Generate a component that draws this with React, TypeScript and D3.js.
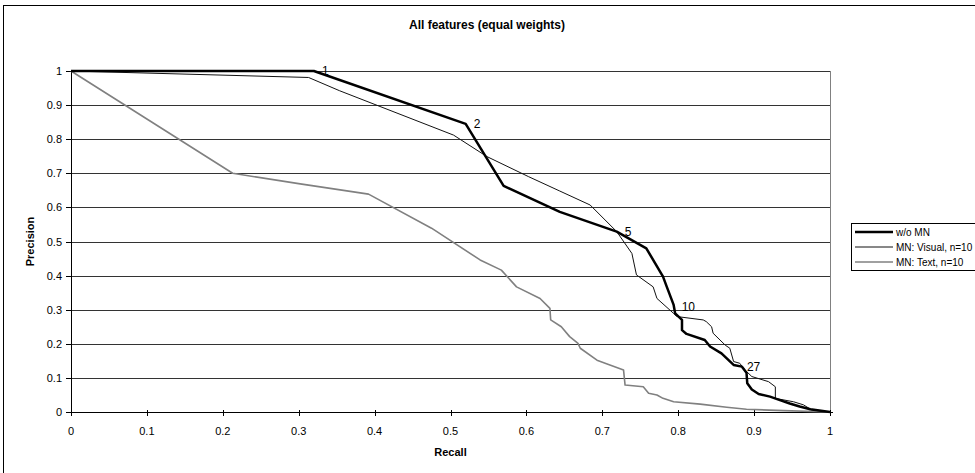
import React from 'react';
import * as d3 from 'd3';

// recall / precision
const woRecall = [0, 0.32, 0.52, 0.57, 0.644, 0.719, 0.758, 0.78, 0.785, 0.794, 0.796, 0.805, 0.805, 0.811, 0.835, 0.842, 0.857, 0.873, 0.884, 0.89, 0.891, 0.897, 0.906, 0.921, 0.934, 0.947, 0.96, 0.974, 1.0];
const woPrecision = [1, 1, 0.845, 0.663, 0.587, 0.529, 0.48, 0.397, 0.367, 0.314, 0.289, 0.27, 0.24, 0.229, 0.211, 0.192, 0.172, 0.138, 0.133, 0.115, 0.084, 0.066, 0.053, 0.045, 0.035, 0.025, 0.016, 0.008, 0];

const visRecall = [0, 0.313, 0.354, 0.504, 0.548, 0.603, 0.644, 0.684, 0.719, 0.739, 0.745, 0.767, 0.772, 0.794, 0.798, 0.833, 0.837, 0.844, 0.846, 0.862, 0.868, 0.873, 0.881, 0.888, 0.897, 0.919, 0.928, 0.928, 0.952, 0.965, 0.976, 1.0];
const visPrecision = [1, 0.981, 0.942, 0.812, 0.749, 0.69, 0.648, 0.607, 0.529, 0.465, 0.402, 0.367, 0.333, 0.289, 0.28, 0.27, 0.265, 0.25, 0.231, 0.196, 0.187, 0.148, 0.143, 0.123, 0.104, 0.089, 0.074, 0.04, 0.03, 0.021, 0.006, 0];

const txtRecall = [0, 0.213, 0.302, 0.392, 0.475, 0.539, 0.567, 0.587, 0.618, 0.631, 0.632, 0.646, 0.657, 0.668, 0.671, 0.693, 0.71, 0.728, 0.73, 0.754, 0.761, 0.772, 0.78, 0.794, 0.829, 0.864, 0.89, 0.939, 1.0];
const txtPrecision = [1, 0.7, 0.669, 0.639, 0.539, 0.446, 0.416, 0.367, 0.333, 0.304, 0.27, 0.25, 0.221, 0.201, 0.187, 0.152, 0.138, 0.123, 0.079, 0.074, 0.055, 0.05, 0.04, 0.03, 0.023, 0.014, 0.008, 0.004, 0];

// rank annotations on the w/o MN curve
const noteLabels = ['1', '2', '5', '10', '27'];
const noteRecall = [0.32, 0.52, 0.719, 0.794, 0.88];
const notePrecision = [1, 0.845, 0.529, 0.309, 0.131];

const xTicks = [0, 0.1, 0.2, 0.3, 0.4, 0.5, 0.6, 0.7, 0.8, 0.9, 1];
const yTicks = [0, 0.1, 0.2, 0.3, 0.4, 0.5, 0.6, 0.7, 0.8, 0.9, 1];

const seriesNames = ['w/o MN', 'MN: Visual, n=10', 'MN: Text, n=10'];

const font = 'Liberation Sans, Arial, sans-serif';

export default function App() {
  const width = 975;
  const height = 473;
  const plot = { left: 71, right: 830, top: 71, bottom: 412 };

  const x = d3.scaleLinear().domain([0, 1]).range([plot.left, plot.right]);
  const y = d3.scaleLinear().domain([0, 1]).range([plot.bottom, plot.top]);

  const line = d3.line<[number, number]>().x(d => x(d[0])).y(d => y(d[1]));
  const zip = (a: number[], b: number[]) => a.map((v, i) => [v, b[i]] as [number, number]);

  const series = [
    { name: seriesNames[0], pts: zip(woRecall, woPrecision), stroke: '#000', w: 2.5 },
    { name: seriesNames[1], pts: zip(visRecall, visPrecision), stroke: '#111', w: 1 },
    { name: seriesNames[2], pts: zip(txtRecall, txtPrecision), stroke: '#808080', w: 1.6 },
  ];
  // draw order: text, visual, then thick on top
  const drawOrder = [2, 1, 0];

  const legendY = [232, 247, 262];

  return (
    <svg width={width} height={height} style={{ position: 'absolute', left: 0, top: 0, background: '#fff' }} fontFamily={font}>
      <rect x={3.5} y={5.5} width={1000} height={1000} fill="#fff" stroke="#000" strokeWidth={1} />

      <text x={487} y={25} textAnchor="middle" dominantBaseline="central" fontSize={12} fontWeight="bold">
        All features (equal weights)
      </text>

      {/* gridlines */}
      {yTicks.filter(t => t > 0).map(t => (
        <line key={'g' + t} x1={plot.left} x2={plot.right} y1={Math.round(y(t)) + 0.5} y2={Math.round(y(t)) + 0.5} stroke="#333" strokeWidth={1} />
      ))}
      <line x1={plot.right + 0.5} x2={plot.right + 0.5} y1={plot.top} y2={plot.bottom} stroke="#808080" strokeWidth={1} />

      {/* axes */}
      <line x1={plot.left + 0.5} x2={plot.left + 0.5} y1={plot.top} y2={plot.bottom} stroke="#000" />
      <line x1={plot.left} x2={plot.right + 3} y1={plot.bottom + 0.5} y2={plot.bottom + 0.5} stroke="#000" />
      {yTicks.map(t => (
        <g key={'y' + t}>
          <line x1={plot.left - 5} x2={plot.left} y1={Math.round(y(t)) + 0.5} y2={Math.round(y(t)) + 0.5} stroke="#000" />
          <text x={plot.left - 9} y={y(t)} textAnchor="end" dominantBaseline="central" fontSize={11}>{d3.format('~g')(t)}</text>
        </g>
      ))}
      {xTicks.map(t => (
        <g key={'x' + t}>
          <line x1={Math.round(x(t)) + 0.5} x2={Math.round(x(t)) + 0.5} y1={plot.bottom - 2} y2={plot.bottom + 4} stroke="#000" />
          <text x={x(t)} y={431} textAnchor="middle" dominantBaseline="central" fontSize={11}>{d3.format('~g')(t)}</text>
        </g>
      ))}

      <text transform={`translate(30,${(plot.top + plot.bottom) / 2}) rotate(-90)`} textAnchor="middle" dominantBaseline="central" fontSize={11} fontWeight="bold">Precision</text>
      <text x={(plot.left + plot.right) / 2} y={452} textAnchor="middle" dominantBaseline="central" fontSize={11} fontWeight="bold">Recall</text>

      {/* series */}
      {drawOrder.map(i => (
        <path key={series[i].name} d={line(series[i].pts) || ''} fill="none" stroke={series[i].stroke} strokeWidth={series[i].w} strokeLinejoin="round" />
      ))}

      {/* annotations */}
      {noteLabels.map((l, i) => (
        <text key={'n' + l} x={x(noteRecall[i]) + 8} y={y(notePrecision[i])} dominantBaseline="central" fontSize={12}>{l}</text>
      ))}

      {/* legend */}
      <rect x={851.5} y={223.5} width={200} height={47} fill="#fff" stroke="#000" />
      {series.map((s, i) => (
        <g key={'l' + s.name}>
          <line x1={855} x2={893} y1={legendY[i]} y2={legendY[i]} stroke={s.stroke} strokeWidth={s.w} />
          <text x={896} y={legendY[i]} dominantBaseline="central" fontSize={10}>{s.name}</text>
        </g>
      ))}
    </svg>
  );
}
